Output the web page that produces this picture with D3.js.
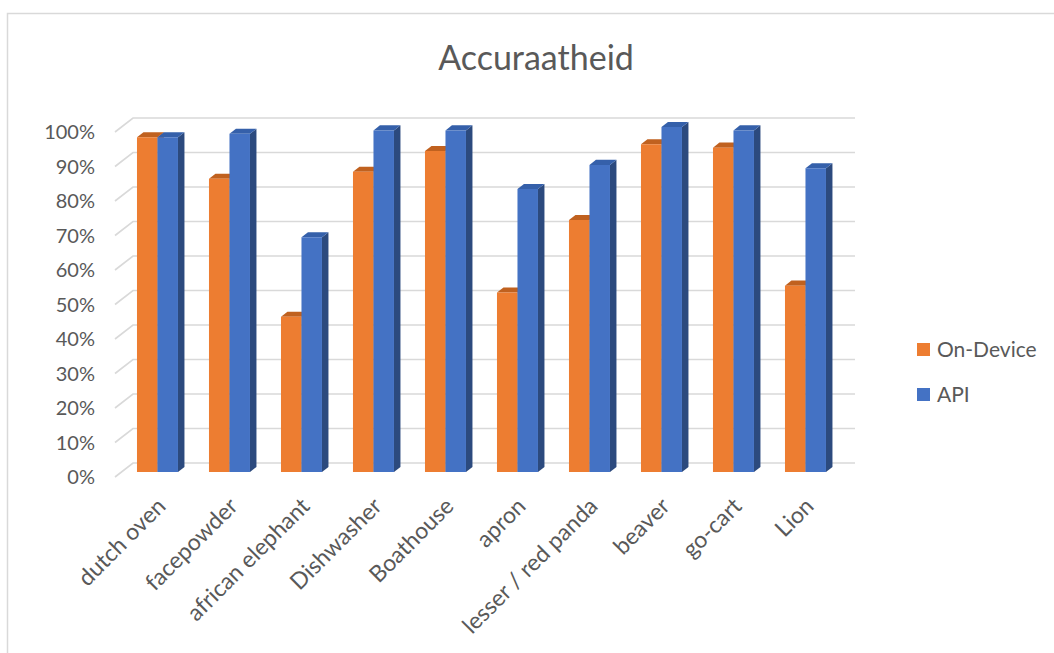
<!DOCTYPE html>
<html>
<head>
<meta charset="utf-8">
<script src="https://cdn.jsdelivr.net/npm/d3@7"></script>
<style>
  body { margin: 0; background: #fff; }
  text { font-family: Lato, "Noto Sans", sans-serif; fill: #595959; }
</style>
</head>
<body>
<div id="container"></div>
<script>
/* DATA */
const categories = ["dutch oven", "facepowder", "african elephant", "Dishwasher", "Boathouse",
  "apron", "lesser / red panda", "beaver", "go-cart", "Lion"];
const series = ["On-Device", "API"];
const onDevice = [0.97, 0.85, 0.45, 0.87, 0.93, 0.52, 0.73, 0.95, 0.94, 0.54];
const api = [0.97, 0.98, 0.68, 0.99, 0.99, 0.82, 0.89, 1.00, 0.99, 0.88];
const yTicks = [0, 0.1, 0.2, 0.3, 0.4, 0.5, 0.6, 0.7, 0.8, 0.9, 1.0];

/* CONSTANTS */
const width = 1054, height = 653;
const colors = { "On-Device": "#ED7D31", "API": "#4472C4" };
const topColors = { "On-Device": "#C0611F", "API": "#3560AA" };
const sideColors = { "On-Device": "#B35A1D", "API": "#2C4A7E" };
const depth = { dx: 18, dy: -14 };   // full wall depth in screen px
const t0 = 0.36, t1 = 0.72;           // bar depth fraction

const svg = d3.select("#container").append("svg")
  .attr("width", width).attr("height", height);

// outer frame
svg.append("rect")
  .attr("x", 7.5).attr("y", 13.5).attr("width", 1200).attr("height", 800)
  .attr("fill", "none").attr("stroke", "#d9d9d9").attr("stroke-width", 1.5);

/* SCALES */
const xScale = d3.scaleBand().domain(categories).range([115, 835])
  .paddingInner(31 / 72).paddingOuter(31 / 144);
const xSub = d3.scaleBand().domain(series).range([0, xScale.bandwidth()]);
const yScale = d3.scaleLinear().domain([0, 1]).range([477, 132]);

const proj = (x, v, t) => [x + t * depth.dx, yScale(v) + t * depth.dy];

/* GRIDLINES */
const grid = svg.append("g").attr("stroke", "#d9d9d9").attr("stroke-width", 1.6).attr("fill", "none");
yTicks.forEach(v => {
  const a = proj(115, v, 0), b = proj(115, v, 1), c = proj(835 + 2, v, 1);
  grid.append("path").attr("d", `M${a}L${b}L${c}`);
});

/* Y AXIS LABELS */
svg.append("g").selectAll("text").data(yTicks).join("text")
  .attr("x", 95).attr("y", d => yScale(d))
  .attr("dy", "0.35em")
  .attr("text-anchor", "end")
  .style("font-size", "20px")
  .text(d => d3.format(".0%")(d));

/* BARS */
const rows = [];
categories.forEach((c, i) => {
  rows.push({ cat: c, s: "On-Device", v: onDevice[i] });
  rows.push({ cat: c, s: "API", v: api[i] });
});
const poly = pts => "M" + pts.map(p => p.join(",")).join("L") + "Z";
const bars = svg.append("g").selectAll("g").data(rows).join("g");
bars.each(function (d) {
  const g = d3.select(this);
  const x = xScale(d.cat) + xSub(d.s), w = xSub.bandwidth();
  g.append("path").attr("fill", sideColors[d.s])
    .attr("d", poly([proj(x + w, 0, t0), proj(x + w, d.v, t0), proj(x + w, d.v, t1), proj(x + w, 0, t1)]));
  g.append("path").attr("fill", topColors[d.s])
    .attr("d", poly([proj(x, d.v, t0), proj(x + w, d.v, t0), proj(x + w, d.v, t1), proj(x, d.v, t1)]));
  g.append("path").attr("fill", colors[d.s])
    .attr("d", poly([proj(x, 0, t0), proj(x + w, 0, t0), proj(x + w, d.v, t0), proj(x, d.v, t0)]));
});

/* X AXIS LABELS */
svg.append("g").selectAll("text").data(categories).join("text")
  .attr("transform", d => {
    const p = proj(xScale(d) + xScale.bandwidth() / 2 + 4, 0, t0);
    return `translate(${p[0]},${p[1] + 30}) rotate(-45)`;
  })
  .attr("text-anchor", "end")
  .attr("dy", "0.35em")
  .style("font-size", "23px")
  .text(d => d);

/* TITLE */
svg.append("text").attr("x", 536).attr("y", 70)
  .attr("text-anchor", "middle").style("font-size", "34px")
  .text("Accuraatheid");

/* LEGEND */
const legend = svg.append("g").selectAll("g").data(series).join("g")
  .attr("transform", (d, i) => `translate(917, ${343 + i * 45})`);
legend.append("rect").attr("width", 13).attr("height", 13).attr("fill", d => colors[d]);
legend.append("text").attr("x", 20).attr("y", 7).attr("dy", "0.35em")
  .style("font-size", "21px").text(d => d);
</script>
</body>
</html>
